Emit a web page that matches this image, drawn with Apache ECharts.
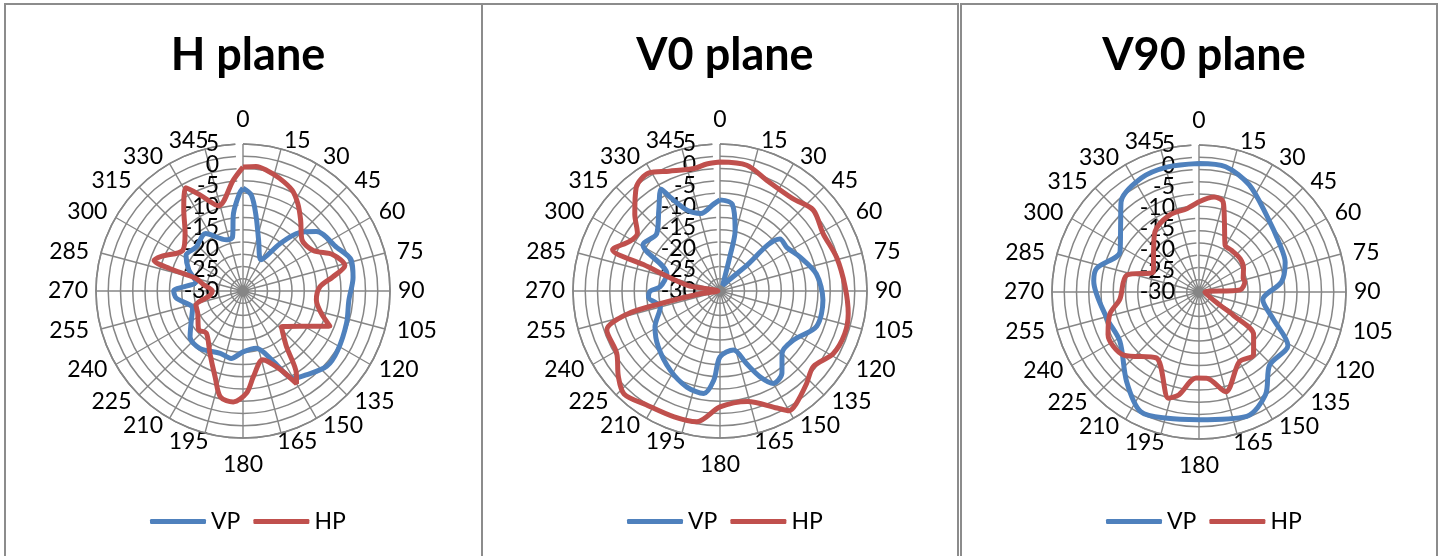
<!DOCTYPE html>
<html><head><meta charset="utf-8">
<script src="https://cdn.jsdelivr.net/npm/echarts@6/dist/echarts.min.js"></script>
<style>html,body{margin:0;padding:0;background:#fff}#c{width:1441px;height:556px}</style>
</head><body><div id="c"></div>
<script>
// ---- text / ticks ----
const titles = ['H plane', 'V0 plane', 'V90 plane'];
const seriesNames = ['VP', 'HP'];
const spokeStep = 3;               // degrees between spokes
const labelEvery = 5;              // label every 5th spoke -> 0,15,30...
const radialMin = -30, radialMax = 5, radialStep = 5;
const ringCount = 12;

// ---- H plane ----
const hVpAng = [0,5,10,17,30,38,44,51,65,74,83,95,107,122,132,143,150,157,167,180,190,200,217,229,238,251,264,270,281,291,302,313,327,342,349,353,358];
const hVpVal = [-5.5,-7.1,-12,-17.3,-21.4,-15.7,-10.7,-7.5,-5.4,-3.2,-3.6,-4.7,-4.2,-3.4,-3.2,-5,-6,-12,-16,-15.5,-13.7,-14.2,-12.9,-13.3,-15.4,-17.3,-14,-13.5,-18.6,-16.2,-14,-14.7,-13.7,-17.2,-16.9,-11.4,-6.7];
const hHpAng = [0,6,11,18,26,32,39,49,60,68,76,81,87,97,106,112,119,133,142,147,150,155,164,173,178,185,192,198,208,221,229,244,253,262,270,279,285,287,289,293,304,315,324,331,336,344,355];
const hHpVal = [-0.5,-0.2,-0.7,-1.8,-3.3,-5.4,-8.2,-11.4,-10.7,-6.9,-5,-8.3,-11.7,-12.4,-10.6,-7.7,-12.7,-17.5,-13.2,-6.7,-4.5,-9.6,-13,-9.5,-5.7,-3.5,-4.2,-8.5,-13.2,-16.7,-16,-18,-18.3,-22,-22.7,-20.5,-18.4,-11.7,-7.6,-8.9,-12.7,-10.5,-6,-1.9,-5,-8.9,-3.5];

// ---- V0 plane ----
const v0VpAng = [0,8,14,16,25,46,49,57,67,80,95,110,124,135,143,150,155,160,167,180,184,189,199,212,228,241,255,265,270,274,288,301,312,323,330,332,338,346,356];
const v0VpVal = [-8.3,-9.1,-15.1,-21.6,-28.5,-22,-11.1,-11,-9.3,-6.7,-5.4,-5.5,-9,-9.1,-5.5,-4.6,-7.5,-11.6,-15.6,-14.3,-8.7,-5.3,-5.8,-7.7,-10.2,-12.3,-15.3,-12.9,-13.4,-15.7,-16.7,-8.6,-9.7,-5.8,-2,-4.7,-9.3,-11,-9.2];
const v0HpAng = [0,12,23,38,49,61,74,88,100,109,119,129,137,146,150,154,166,180,190,200,213,223,230,239,251,256,258,262,270,280,289,291,299,305,312,321,329,337,348,354];
const v0HpVal = [0.7,0.6,-1.4,-2,-0.6,-1.9,-1.1,-0.2,1,1.4,0.8,-1.4,0.2,2.4,2.9,1,-2.9,-2.4,1.6,1.9,2.3,3.5,1.6,-1.3,-1.5,-7.2,-15.4,-25.2,-29.5,-22,-10.7,-2.6,-5.5,-6,-2.7,1.7,2.8,1,-0.2,0.4];

// ---- V90 plane ----
const v90VpAng = [0,12,25,41,60,71,83,97,110,121,136,147,159,180,194,206,219,238,254,276,283,297,312,319,333,346];
const v90VpVal = [0.6,0.5,-1.8,-5.6,-7.7,-8.3,-10.2,-14.7,-11.2,-5.3,-5.8,-0.9,1.7,0.4,1,1.7,-2.6,-7.8,-7.2,-4.8,-5,-8.9,-4.9,-1.7,0.4,0.7];
const v90HpAng = [0,9,15,20,29,38,51,62,73,77,87,93,122,124,128,139,150,165,175,182,191,196,213,230,245,256,265,283,294,314,324,339,352];
const v90HpVal = [-8.5,-7.1,-7.8,-12.3,-17.2,-17.4,-17.4,-18,-19,-18.8,-20.2,-28.6,-24.1,-20.2,-13.5,-10.2,-10.8,-5.4,-9.4,-9.5,-5.1,-3.7,-11.3,-6.6,-6.1,-8.1,-11.1,-12.3,-18.1,-15,-12.2,-10.4,-9.9];

const panelData = [
  [[hVpAng, hVpVal], [hHpAng, hHpVal]],
  [[v0VpAng, v0VpVal], [v0HpAng, v0HpVal]],
  [[v90VpAng, v90VpVal], [v90HpAng, v90HpVal]]
];

// ---- layout / style ----
const centers = [[243, 291], [720, 291], [1199, 292]];
const R = 147;
const colors = ['#4F81BD', '#C0504D'];
const gridColor = '#868686';
const FONT = 'Lato';
const LABEL_SIZE = 23;

const spokeCats = [];
for (let a = 0; a < 360; a += spokeStep) spokeCats.push(String(a));

// label placement styles (imitating the spreadsheet's label anchoring)
const base = { fontSize: LABEL_SIZE, fontFamily: FONT, color: '#000' };
const labelRich = {
  n:   Object.assign({ padding: [0, 0, 8, 0] }, base),
  s:   Object.assign({ padding: [10, 0, 0, 0] }, base),
  e:   Object.assign({ padding: [0, 0, 0, 3] }, base),
  w:   Object.assign({ padding: [0, 3, 0, 0] }, base),
  nr:  Object.assign({ padding: [0, 0, 0, 30], lineHeight: 8 }, base),
  nl:  Object.assign({ padding: [0, 30, 0, 0], lineHeight: 8 }, base),
  er:  Object.assign({ padding: [0, 0, 0, 7] }, base),
  el:  Object.assign({ padding: [0, 7, 0, 0] }, base),
  dr:  Object.assign({ padding: [0, 0, 0, 4], lineHeight: 6 }, base),
  dl:  Object.assign({ padding: [0, 4, 0, 0], lineHeight: 6 }, base)
};
function labelKey(a) {
  if (a === 0) return 'n';
  if (a === 180) return 's';
  if (a === 90) return 'e';
  if (a === 270) return 'w';
  const right = a < 180;
  const fromVert = Math.min(a % 180, 180 - (a % 180));   // 0..90
  if (fromVert <= 15) return right ? 'nr' : 'nl';
  if (fromVert >= 75) return right ? 'er' : 'el';
  return right ? 'dr' : 'dl';
}

const radialLabel = { fontSize: LABEL_SIZE, color: '#000', fontFamily: FONT, margin: 24 };

const polar = [], angleAxis = [], radiusAxis = [], series = [];
centers.forEach((c, i) => {
  const g = 3 * i, d = 3 * i + 1, e = 3 * i + 2;
  polar.push({ center: c, radius: [0, R] });
  polar.push({ center: c, radius: [0, R] });
  polar.push({ center: c, radius: [0, R] });
  // grid: spokes + rings + angle labels
  angleAxis.push({
    polarIndex: g, type: 'category', data: spokeCats, boundaryGap: false,
    startAngle: 90, clockwise: true,
    axisLine: { show: true, lineStyle: { color: gridColor, width: 1.6 } },
    axisTick: { show: false },
    axisLabel: {
      interval: labelEvery - 1, margin: 5, fontSize: LABEL_SIZE, color: '#000', fontFamily: FONT,
      formatter: (v) => '{' + labelKey(+v) + '|' + v + '}',
      rich: labelRich
    },
    splitLine: { show: true, interval: 0, lineStyle: { color: gridColor, width: 1.4 } }
  });
  radiusAxis.push({
    polarIndex: g, type: 'value', min: 0, max: ringCount, interval: 1,
    axisLine: { show: false }, axisTick: { show: false }, axisLabel: { show: false },
    splitLine: { show: true, lineStyle: { color: gridColor, width: 1.5 } }
  });
  // data scale (-30 .. 5 dB), inner tick labels
  angleAxis.push({
    polarIndex: d, type: 'value', min: 0, max: 360, startAngle: 90, clockwise: true,
    axisLine: { show: false }, axisTick: { show: false }, axisLabel: { show: false }, splitLine: { show: false }
  });
  radiusAxis.push({
    polarIndex: d, type: 'value', min: radialMin, max: radialMax, interval: radialStep,
    axisLine: { show: false }, axisTick: { show: false }, splitLine: { show: false },
    axisLabel: Object.assign({ showMinLabel: false, showMaxLabel: false }, radialLabel)
  });
  // same scale, end tick labels (-30 and 5)
  angleAxis.push({
    polarIndex: e, type: 'value', min: 0, max: 360, startAngle: 90, clockwise: true,
    axisLine: { show: false }, axisTick: { show: false }, axisLabel: { show: false }, splitLine: { show: false }
  });
  radiusAxis.push({
    polarIndex: e, type: 'value', min: radialMin, max: radialMax, interval: radialMax - radialMin,
    axisLine: { show: false }, axisTick: { show: false }, splitLine: { show: false },
    axisLabel: Object.assign({ showMinLabel: true, showMaxLabel: true }, radialLabel)
  });
  panelData[i].forEach((s, k) => {
    const [ang, val] = s;
    const data = ang.map((a, j) => [val[j], a]);
    data.push([val[0], 360]);
    series.push({
      name: seriesNames[k], type: 'line', coordinateSystem: 'polar', polarIndex: d,
      data: data, showSymbol: false, smooth: 0.3, z: 3 + k,
      itemStyle: { color: colors[k] },
      lineStyle: { color: colors[k], width: 5 }
    });
  });
});

const option = {
  animation: false,
  textStyle: { fontFamily: FONT },
  title: titles.map((t, i) => ({
    text: t, left: centers[i][0], top: 28, textAlign: 'center',
    textStyle: { fontSize: 45, fontWeight: 'bold', color: '#000', fontFamily: FONT }
  })),
  legend: centers.map((c) => ({
    data: seriesNames, left: c[0] - 98, top: 505, icon: 'roundRect',
    itemWidth: 56, itemHeight: 5, itemGap: 13,
    textStyle: { fontSize: LABEL_SIZE, color: '#000', fontFamily: FONT }
  })),
  polar, angleAxis, radiusAxis, series,
  graphic: [
    { type: 'rect', shape: { x: 5, y: 4, width: 477, height: 600 }, style: { fill: 'none', stroke: '#8c8c8c', lineWidth: 2 } },
    { type: 'rect', shape: { x: 482, y: 4, width: 476, height: 600 }, style: { fill: 'none', stroke: '#8c8c8c', lineWidth: 2 } },
    { type: 'rect', shape: { x: 961, y: 4, width: 476, height: 600 }, style: { fill: 'none', stroke: '#8c8c8c', lineWidth: 2 } }
  ]
};
const chart = echarts.init(document.getElementById('c'), null, { renderer: 'canvas' });
chart.setOption(option);
</script>
</body></html>
